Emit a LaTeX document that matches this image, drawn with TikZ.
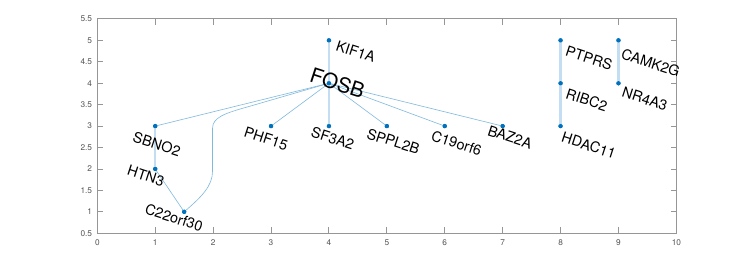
\documentclass[tikz,border=0pt]{standalone}
\usepackage{fontspec}
\setmainfont{TeX Gyre Heros}
\definecolor{axisgray}{RGB}{150,150,150}
\definecolor{tickgray}{RGB}{85,85,85}
\definecolor{edgethin}{RGB}{128,185,222}
\definecolor{edgethick}{RGB}{195,222,242}
\definecolor{markblue}{RGB}{0,114,189}
\begin{document}
\begin{tikzpicture}[x=1pt,y=1pt,
  axisline/.style={draw=axisgray,line width=0.7pt},
  ticklbl/.style={text=tickgray,inner sep=0pt,font=\fontsize{6.2}{7}\selectfont},
  thinedge/.style={draw=edgethin,line width=0.45pt},
  thickedge/.style={draw=edgethick,line width=1.7pt},
  gnode/.style={circle,fill=markblue,inner sep=0pt,minimum size=3.2pt},
  glabel/.style={inner sep=0pt,anchor=west,rotate=-18,font=\fontsize{10.8}{12}\selectfont},
  biglabel/.style={glabel,font=\fontsize{15.5}{17}\selectfont}]
\useasboundingbox (0,0) rectangle (561,197.25);
\fill[white] (0,0) rectangle (561,197.25);
\begin{scope}[shift={(72.98pt,6.22pt)},x=43.43pt,y=32.15pt]
  % axes
  \draw[axisline] (0,0.5) rectangle (10,5.5);
  \foreach \i in {0,...,10} {
    \draw[axisline] (\i,0.5) -- ++(0,0.135);
    \draw[axisline] (\i,5.5) -- ++(0,-0.135);
    \node[ticklbl,anchor=north] at ([yshift=-4.3pt]\i,0.5) {\i};
  }
  \foreach \v in {0.5,1,1.5,2,2.5,3,3.5,4,4.5,5,5.5} {
    \draw[axisline] (0,\v) -- ++(0.1,0);
    \draw[axisline] (10,\v) -- ++(-0.1,0);
    \node[ticklbl,anchor=east] at ([xshift=-3.75pt]0,\v) {\v};
  }
  % graph nodes
  \node[gnode] (fosb) at (4,4) {};
  \node[gnode] (kif) at (4,5) {};
  \node[gnode] (sbno) at (1,3) {};
  \node[gnode] (htn) at (1,2) {};
  \node[gnode] (c22) at (1.5,1) {};
  \node[gnode] (phf) at (3,3) {};
  \node[gnode] (sf3) at (4,3) {};
  \node[gnode] (sppl) at (5,3) {};
  \node[gnode] (c19) at (6,3) {};
  \node[gnode] (baz) at (7,3) {};
  \node[gnode] (ptprs) at (8,5) {};
  \node[gnode] (ribc) at (8,4) {};
  \node[gnode] (hdac) at (8,3) {};
  \node[gnode] (camk) at (9,5) {};
  \node[gnode] (nr4) at (9,4) {};
  % edges
  \draw[thickedge] (fosb.center) -- (kif.center);
  \draw[thickedge] (fosb.center) -- (sf3.center);
  \draw[thickedge] (sbno.center) -- (htn.center);
  \draw[thickedge] (ptprs.center) -- (ribc.center);
  \draw[thickedge] (ribc.center) -- (hdac.center);
  \draw[thickedge] (camk.center) -- (nr4.center);
  \draw[thinedge] (fosb.center) -- (sbno.center);
  \draw[thinedge] (fosb.center) -- (phf.center);
  \draw[thinedge] (fosb.center) -- (sppl.center);
  \draw[thinedge] (fosb.center) -- (c19.center);
  \draw[thinedge] (fosb.center) -- (baz.center);
  \draw[thinedge] (htn.center) -- (c22.center);
  \draw[thinedge] (c22.center) .. controls (1.8,1.35) and (1.99,1.6) .. (1.99,1.95)
     -- (1.99,2.95) .. controls (1.99,3.2) and (2.2,3.3) .. (2.6,3.45) -- (fosb.center);
  % markers on top of the edges
  \foreach \n in {fosb,kif,sbno,htn,c22,phf,sf3,sppl,c19,baz,ptprs,ribc,hdac,camk,nr4}
    \fill[markblue] (\n.center) circle (1.6pt);
  % labels
  \node[glabel] (lkif) at (4.13,4.89) {KIF1A};
  \node[biglabel] (lfosb) at (3.686,4.215) {FOSB};
  \node[glabel] (lptprs) at (8.095,4.763) {PTPRS};
  \node[glabel] (lcamk) at (9.057,4.698) {CAMK2G};
  \node[glabel] (lribc) at (8.10,3.765) {RIBC2};
  \node[glabel] (lnr4) at (9.07,3.80) {NR4A3};
  \node[glabel] (lhdac) at (8.026,2.753) {HDAC11};
  \node[glabel] (lsbno) at (0.622,2.753) {SBNO2};
  \node[glabel] (lhtn) at (0.525,1.976) {HTN3};
  \node[glabel] (lc22) at (0.83,1.082) {C22orf30};
  \node[glabel] (lphf) at (2.54,2.87) {PHF15};
  \node[glabel] (lsf3) at (3.70,2.87) {SF3A2};
  \node[glabel] (lsppl) at (4.66,2.84) {SPPL2B};
  \node[glabel] (lc19) at (5.776,2.79) {C19orf6};
  \node[glabel] (lbaz) at (6.75,2.91) {BAZ2A};
\end{scope}
\end{tikzpicture}
\end{document}
